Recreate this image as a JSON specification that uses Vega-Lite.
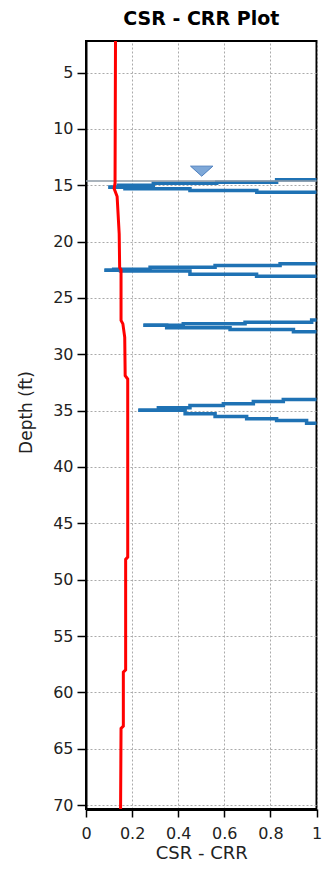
{
  "$schema": "https://vega.github.io/schema/vega-lite/v6.json",
  "autosize": "none",
  "width": 230.5,
  "height": 768,
  "padding": {"left": 86, "top": 41, "right": 7.5, "bottom": 61},
  "background": "white",
  "title": {"text": "CSR - CRR Plot", "font": "DejaVu Sans", "fontSize": 19, "fontWeight": "bold", "color": "#000", "anchor": "middle", "baseline": "alphabetic", "offset": 15, "dy": 24},
  "config": {"view": {"stroke": "#000", "strokeWidth": 2}},
  "datasets": {
    "csr": [
      {"depth": 2.2, "v": 0.128}, {"depth": 14.8, "v": 0.126}, {"depth": 15.3, "v": 0.122}, {"depth": 16.0, "v": 0.135},
      {"depth": 19.3, "v": 0.144}, {"depth": 22.3, "v": 0.146}, {"depth": 22.5, "v": 0.152}, {"depth": 27.0, "v": 0.152},
      {"depth": 27.3, "v": 0.160}, {"depth": 28.5, "v": 0.168}, {"depth": 31.9, "v": 0.170}, {"depth": 32.2, "v": 0.181},
      {"depth": 48.0, "v": 0.181}, {"depth": 48.2, "v": 0.172}, {"depth": 58.0, "v": 0.172}, {"depth": 58.2, "v": 0.162},
      {"depth": 63.0, "v": 0.162}, {"depth": 63.2, "v": 0.152}, {"depth": 70.35, "v": 0.150}
    ],
    "crr": [
      {"s": "1u", "v": 0.097, "depth": 15.17}, {"s": "1u", "v": 0.14, "depth": 15.0}, {"s": "1u", "v": 0.292, "depth": 14.82}, {"s": "1u", "v": 0.567, "depth": 14.73}, {"s": "1u", "v": 0.827, "depth": 14.52}, {"s": "1u", "v": 1.0, "depth": 14.52},
      {"s": "1l", "v": 0.097, "depth": 15.17}, {"s": "1l", "v": 0.169, "depth": 15.32}, {"s": "1l", "v": 0.451, "depth": 15.47}, {"s": "1l", "v": 0.741, "depth": 15.63}, {"s": "1l", "v": 1.0, "depth": 15.63},
      {"s": "2u", "v": 0.08, "depth": 22.55}, {"s": "2u", "v": 0.12, "depth": 22.45}, {"s": "2u", "v": 0.278, "depth": 22.27}, {"s": "2u", "v": 0.56, "depth": 22.12}, {"s": "2u", "v": 0.842, "depth": 21.97}, {"s": "2u", "v": 1.0, "depth": 21.97},
      {"s": "2l", "v": 0.08, "depth": 22.55}, {"s": "2l", "v": 0.15, "depth": 22.62}, {"s": "2l", "v": 0.451, "depth": 22.9}, {"s": "2l", "v": 0.74, "depth": 23.08}, {"s": "2l", "v": 1.0, "depth": 23.08},
      {"s": "3u", "v": 0.249, "depth": 27.43}, {"s": "3u", "v": 0.422, "depth": 27.29}, {"s": "3u", "v": 0.69, "depth": 27.15}, {"s": "3u", "v": 0.979, "depth": 26.96}, {"s": "3u", "v": 1.0, "depth": 26.96},
      {"s": "3l", "v": 0.249, "depth": 27.43}, {"s": "3l", "v": 0.35, "depth": 27.64}, {"s": "3l", "v": 0.625, "depth": 27.8}, {"s": "3l", "v": 0.9, "depth": 28.0}, {"s": "3l", "v": 1.0, "depth": 28.0},
      {"s": "4u", "v": 0.227, "depth": 34.97}, {"s": "4u", "v": 0.314, "depth": 34.74}, {"s": "4u", "v": 0.451, "depth": 34.54}, {"s": "4u", "v": 0.596, "depth": 34.4}, {"s": "4u", "v": 0.726, "depth": 34.19}, {"s": "4u", "v": 0.856, "depth": 34.02}, {"s": "4u", "v": 1.0, "depth": 34.02},
      {"s": "4l", "v": 0.227, "depth": 34.97}, {"s": "4l", "v": 0.43, "depth": 35.28}, {"s": "4l", "v": 0.56, "depth": 35.52}, {"s": "4l", "v": 0.697, "depth": 35.73}, {"s": "4l", "v": 0.827, "depth": 35.88}, {"s": "4l", "v": 0.957, "depth": 36.12}, {"s": "4l", "v": 1.0, "depth": 36.12}
    ],
    "wt": [{"depth": 14.62, "v": 0.502, "marker": 13.75}]
  },
  "layer": [
    {
      "data": {"name": "crr"},
      "mark": {"type": "line", "color": "#1f72b4", "strokeWidth": 3.5, "interpolate": "step-after"},
      "encoding": {
        "y": {
          "field": "depth", "type": "quantitative",
          "scale": {"domain": [2.2, 70.35], "nice": false, "zero": false, "reverse": true},
          "axis": {
            "values": [5, 10, 15, 20, 25, 30, 35, 40, 45, 50, 55, 60, 65, 70],
            "format": "d",
            "labelFont": "DejaVu Sans", "labelFontSize": 16, "labelColor": "#222", "labelPadding": 4,
            "tickSize": 9,
            "tickColor": "#000", "tickWidth": 1.5,
            "domainColor": "#000", "domainWidth": 2,
            "grid": true, "gridColor": "#aaaaaa", "gridDash": [2, 2], "gridWidth": 1,
            "labelOverlap": false, "labelFlush": false,
            "title": "Depth (ft)", "titleFont": "DejaVu Sans", "titleFontSize": 17, "titleFontWeight": "normal", "titleColor": "#222",
            "titleAngle": -90, "titleX": -60, "titleY": 371, "titleAlign": "center", "titleBaseline": "middle"
          }
        },
        "x": {
          "field": "v", "type": "quantitative",
          "scale": {"domain": [0, 1], "nice": false},
          "axis": {
            "values": [0, 0.1, 0.2, 0.3, 0.4, 0.5, 0.6, 0.7, 0.8, 0.9, 1],
            "labelExpr": "round(datum.value * 10) % 2 == 0 ? format(datum.value, '~g') : ''",
            "labelFont": "DejaVu Sans", "labelFontSize": 16, "labelColor": "#222", "labelPadding": 8,
            "tickSize": {"condition": {"test": "round(datum.value * 10) % 2 == 0", "value": 8}, "value": 5},
            "tickColor": "#000", "tickWidth": 1.5,
            "domainColor": "#000", "domainWidth": 3,
            "grid": true, "gridColor": "#aaaaaa", "gridDash": [2, 2], "gridWidth": 1,
            "gridOpacity": {"condition": {"test": "round(datum.value * 10) % 2 == 0", "value": 1}, "value": 0},
            "labelOverlap": false, "labelFlush": false,
            "title": "CSR - CRR", "titleFont": "DejaVu Sans", "titleFontSize": 18, "titleFontWeight": "normal", "titleColor": "#222", "titlePadding": 3
          }
        },
        "detail": {"field": "s", "type": "nominal"}
      }
    },
    {
      "data": {"name": "wt"},
      "mark": {"type": "rule", "color": "#8c9aa6", "strokeWidth": 1.5},
      "encoding": {
        "y": {"field": "depth", "type": "quantitative"}
      }
    },
    {
      "data": {"name": "wt"},
      "mark": {"type": "point", "shape": "M-1,-0.45L1,-0.45L0,0.45Z", "size": 500, "filled": true, "fill": "#7ea8d8", "stroke": "#4f80bf", "strokeWidth": 1, "opacity": 1},
      "encoding": {
        "x": {"field": "v", "type": "quantitative"},
        "y": {"field": "marker", "type": "quantitative"}
      }
    },
    {
      "data": {"name": "csr"},
      "mark": {"type": "line", "color": "#ff0000", "strokeWidth": 3},
      "encoding": {
        "x": {"field": "v", "type": "quantitative"},
        "y": {"field": "depth", "type": "quantitative"},
        "order": {"field": "depth", "type": "quantitative"}
      }
    }
  ]
}
